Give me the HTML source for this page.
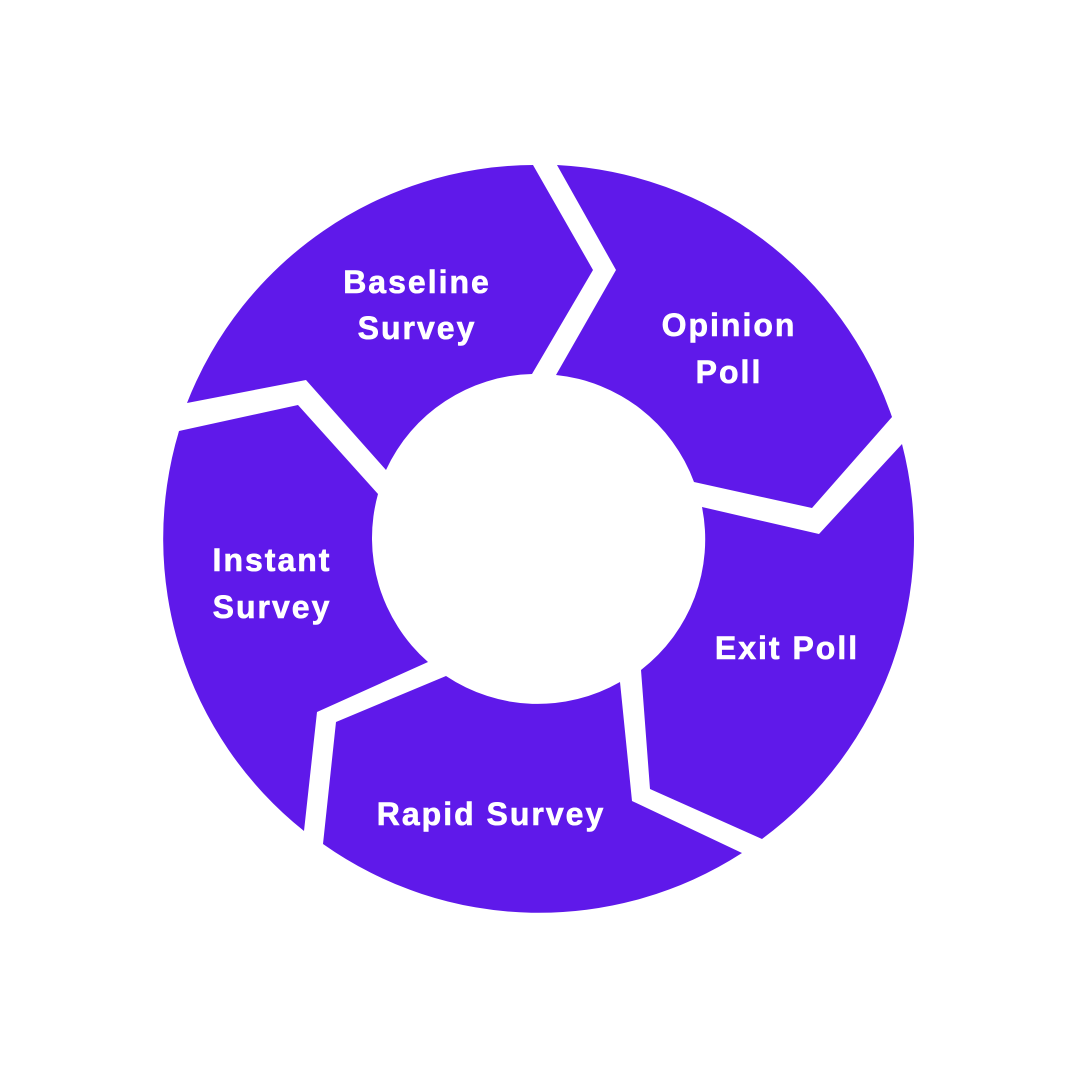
<!DOCTYPE html>
<html><head><meta charset="utf-8"><style>
html,body{margin:0;padding:0;background:#fff;}
svg{display:block}
text{font-family:"Liberation Sans",sans-serif;font-weight:bold;font-size:32px;fill:#fff;stroke:#fff;stroke-width:0.6px;text-anchor:middle;letter-spacing:2px}
</style></head><body>
<svg width="1080" height="1080" viewBox="0 0 1080 1080">
<g fill="#5f19ea">
<path d="M187,403 A374,374 0 0 1 533,165 L593,270 L532,374 A165,165 0 0 0 386,470 L306,380 Z"/>
<path d="M557,165 A374,374 0 0 1 892,417 L812,508 L694,482 A165,165 0 0 0 556,375 L616,270 Z"/>
<path d="M902,444 A374,374 0 0 1 762,839 L650,789 L641,670 A165,165 0 0 0 702,507 L819,534 Z"/>
<path d="M742,853 A374,374 0 0 1 323,844 L336,722 L446,676 A165,165 0 0 0 620,682 L632,801 Z"/>
<path d="M304,831 A374,374 0 0 1 179,431 L298,405 L378,494 A165,165 0 0 0 428,662 L317,712 Z"/>
</g>
<text x="417" y="293">Baseline</text>
<text x="417" y="339">Survey</text>
<text x="729" y="336">Opinion</text>
<text x="729" y="383">Poll</text>
<text x="272" y="571">Instant</text>
<text x="272" y="618">Survey</text>
<text x="787" y="659">Exit Poll</text>
<text x="491" y="825">Rapid Survey</text>
</svg>
</body></html>
